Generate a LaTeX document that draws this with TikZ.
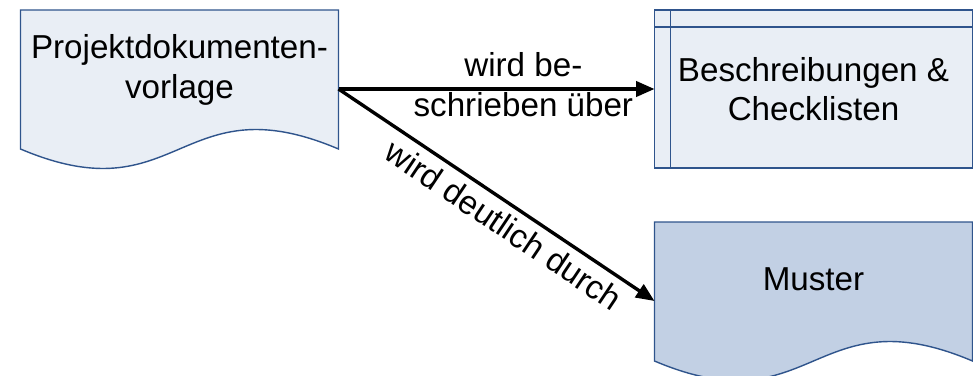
\documentclass[tikz,border=0pt]{standalone}
\usepackage{fontspec}
\setmainfont{Liberation Sans}
\usetikzlibrary{arrows.meta,positioning,calc}

\definecolor{randblau}{RGB}{47,84,140}
\definecolor{hellblau}{RGB}{233,238,245}
\definecolor{mittelblau}{RGB}{194,208,228}

% Umriss eines Dokuments mit gewelltem unteren Rand
\newcommand{\dokumentrand}[2]{%
  \draw[rand, fill=#2] (#1.north west) -- (#1.north east)
    -- ($(#1.south east)+(0,0.475)$)
    .. controls ($(#1.south)+(0,2.1625)$) and ($(#1.south)+(0,-1.2125)$)
    .. ($(#1.south west)+(0,0.475)$) -- cycle;}

\begin{document}
\begin{tikzpicture}[
    >={Triangle[length=4.6mm,width=3.8mm]},
    node distance=1.35cm and 7.9cm,
    kasten/.style={rectangle, minimum width=7.95cm, minimum height=3.95cm,
        outer sep=0pt, inner sep=0pt},
    rand/.style={draw=randblau, line width=1pt},
    beschriftung/.style={font=\fontsize{23.6}{28}\selectfont, align=center},
    pfeil/.style={->, line width=2.4pt}
]
\useasboundingbox (-4.4875,-7.15) rectangle (19.8375,2.225);

\node[kasten] (vorlage) {};
\dokumentrand{vorlage}{hellblau}
\node[beschriftung, yshift=0.475cm] (vorlage-text) at (vorlage) {Projektdokumenten-\\vorlage};

\node[kasten, rand, fill=hellblau, right=of vorlage] (liste) {};
\draw[rand] ($(liste.north west)+(0,-0.425)$) -- ($(liste.north east)+(0,-0.425)$);
\draw[rand] ($(liste.north west)+(0.4,0)$) -- ($(liste.south west)+(0.4,0)$);
\node[beschriftung] (liste-text) at (liste) {Beschreibungen \&\\Checklisten};

\node[kasten, below=of liste] (muster) {};
\dokumentrand{muster}{mittelblau}
\node[beschriftung, yshift=0.54cm] (muster-text) at (muster) {Muster};

% Verbindungen
\draw[pfeil] (vorlage.east) -- (liste.west)
    node[beschriftung, pos=0.585, yshift=0.11cm] {wird be-\\schrieben über};
\draw[pfeil] (vorlage.east) -- (muster.west)
    node[beschriftung, sloped, below, pos=0.56, inner sep=5pt] {wird deutlich durch};
\end{tikzpicture}
\end{document}
